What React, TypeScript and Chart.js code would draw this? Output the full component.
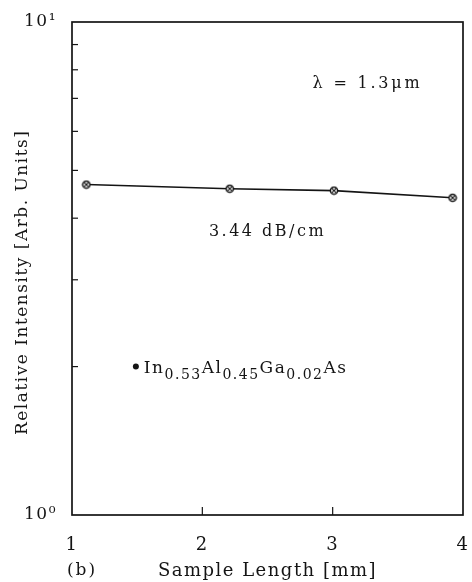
import { useEffect, useRef } from "react";
import { Chart, registerables } from "chart.js";

Chart.register(...registerables);

const sampleLength = [1.11, 2.21, 3.01, 3.92];
const intensity = [4.68, 4.59, 4.55, 4.4];
const xTickValues = [1, 2, 3, 4];
const yTickValues = [1, 2, 3, 4, 5, 6, 7, 8, 9, 10];
const yTickLabels: Record<number, string> = { 1: "10⁰", 10: "10¹" };
const wavelengthLabel = "λ = 1.3μm";
const lossLabel = "3.44 dB/cm";
const panelLabel = "(b)";
const xTitle = "Sample Length [mm]";
const yTitle = "Relative Intensity [Arb. Units]    ";
const materialParts: [string, boolean][] = [
  ["In", false],
  ["0.53", true],
  ["Al", false],
  ["0.45", true],
  ["Ga", false],
  ["0.02", true],
  ["As", false],
];
// annotation anchor values (data coordinates)
const wavelengthPos = { x: 3.26, y: 7.5 };
const lossPos = { x: 2.5, y: 3.75 };
const materialPos = { x: 1.49, y: 2.0 };

const FONT = "'DejaVu Serif', 'Liberation Serif', serif";
const INK = "#141414";

function makeMarker(): HTMLCanvasElement {
  const c = document.createElement("canvas");
  c.width = 10;
  c.height = 10;
  const g = c.getContext("2d")!;
  g.fillStyle = "#ffffff";
  g.strokeStyle = INK;
  g.lineWidth = 1.5;
  g.beginPath();
  g.arc(5, 5, 3.6, 0, Math.PI * 2);
  g.fill();
  g.stroke();
  g.lineWidth = 1.1;
  g.beginPath();
  g.moveTo(2.6, 2.6);
  g.lineTo(7.4, 7.4);
  g.moveTo(7.4, 2.6);
  g.lineTo(2.6, 7.4);
  g.stroke();
  return c;
}

const spacingPlugin = {
  id: "spacing",
  beforeDraw(chart: any) {
    (chart.ctx as any).letterSpacing = "1.5px";
  },
};

const framePlugin = {
  id: "frame",
  afterDatasetsDraw(chart: any) {
    const { ctx, chartArea: a, scales } = chart;
    const xs = scales.x;
    const ys = scales.y;
    ctx.save();
    ctx.strokeStyle = INK;
    ctx.lineWidth = 1.7;
    ctx.strokeRect(a.left, a.top, a.right - a.left, a.bottom - a.top);
    ctx.lineWidth = 1.2;
    // inward x ticks
    xTickValues.slice(1, -1).forEach((v) => {
      const px = xs.getPixelForValue(v);
      ctx.beginPath();
      ctx.moveTo(px, a.bottom);
      ctx.lineTo(px, a.bottom - 8);
      ctx.stroke();
    });
    // inward y minor ticks
    yTickValues.slice(1, -1).forEach((v) => {
      const py = ys.getPixelForValue(v);
      ctx.beginPath();
      ctx.moveTo(a.left, py);
      ctx.lineTo(a.left + 6, py);
      ctx.stroke();
    });

    ctx.fillStyle = INK;
    ctx.textBaseline = "middle";
    ctx.textAlign = "left";
    ctx.font = `16px ${FONT}`;
    ctx.letterSpacing = "2.8px";
    ctx.fillText(
      wavelengthLabel,
      xs.getPixelForValue(wavelengthPos.x) - 54,
      ys.getPixelForValue(wavelengthPos.y)
    );
    ctx.letterSpacing = "2.5px";
    ctx.textAlign = "center";
    ctx.fillText(lossLabel, xs.getPixelForValue(lossPos.x), ys.getPixelForValue(lossPos.y));

    // material legend
    const mx = xs.getPixelForValue(materialPos.x);
    const my = ys.getPixelForValue(materialPos.y);
    ctx.beginPath();
    ctx.arc(mx, my, 3, 0, Math.PI * 2);
    ctx.fill();
    ctx.textAlign = "left";
    ctx.textBaseline = "alphabetic";
    ctx.letterSpacing = "1.5px";
    let cx = mx + 8;
    const base = my + 6;
    materialParts.forEach(([t, sub]) => {
      ctx.font = sub ? `14px ${FONT}` : `17px ${FONT}`;
      ctx.fillText(t, cx, sub ? base + 6 : base);
      cx += ctx.measureText(t).width;
    });

    // panel label
    ctx.font = `17px ${FONT}`;
    ctx.letterSpacing = "2px";
    ctx.textAlign = "center";
    ctx.textBaseline = "middle";
    ctx.fillText(panelLabel, 82, 571);
    ctx.restore();
  },
};

export default function App() {
  const ref = useRef<HTMLCanvasElement | null>(null);
  useEffect(() => {
    if (!ref.current) return;
    const chart = new Chart(ref.current, {
      type: "line",
      data: {
        datasets: [
          {
            data: sampleLength.map((x, i) => ({ x, y: intensity[i] })),
            borderColor: INK,
            borderWidth: 1.6,
            pointStyle: makeMarker() as any,
            pointRadius: 5,
            tension: 0,
          },
        ],
      },
      options: {
        responsive: false,
        animation: false,
        events: [],
        layout: { padding: { top: 22, right: 9, left: 0, bottom: 0 } },
        plugins: { legend: { display: false }, tooltip: { enabled: false } },
        scales: {
          x: {
            type: "linear",
            min: 1,
            max: 4,
            afterBuildTicks: (s: any) => {
              s.ticks = xTickValues.map((v) => ({ value: v }));
            },
            afterFit: (s: any) => {
              s.height = 67;
              s.paddingLeft = 0;
              s.paddingRight = 0;
            },
            grid: { display: false, drawTicks: false },
            border: { display: false },
            ticks: {
              color: INK,
              font: { family: FONT, size: 18 },
              padding: 20,
              maxRotation: 0,
              callback: (v: any) => String(v),
            },
            title: {
              display: true,
              text: xTitle,
              color: INK,
              font: { family: FONT, size: 18 },
              padding: { top: 0, bottom: 0 },
            },
          },
          y: {
            type: "logarithmic",
            min: 1,
            max: 10,
            afterBuildTicks: (s: any) => {
              s.ticks = yTickValues.map((v) => ({ value: v, major: v === 1 || v === 10 }));
            },
            afterFit: (s: any) => {
              s.width = 72;
              s.paddingTop = 0;
              s.paddingBottom = 0;
            },
            grid: { display: false, drawTicks: false },
            border: { display: false },
            ticks: {
              color: INK,
              font: { family: FONT, size: 17 },
              padding: 15,
              autoSkip: false,
              callback: (v: any) => yTickLabels[v as number] ?? "",
            },
            title: {
              display: true,
              text: yTitle,
              color: INK,
              font: { family: FONT, size: 17 },
              padding: { top: 12, bottom: 0 },
            },
          },
        },
      },
      plugins: [spacingPlugin, framePlugin],
    });
    return () => chart.destroy();
  }, []);
  return (
    <div style={{ position: "absolute", left: 0, top: 0, width: 472, height: 582, background: "#fff" }}>
      <canvas ref={ref} width={472} height={582} />
    </div>
  );
}
